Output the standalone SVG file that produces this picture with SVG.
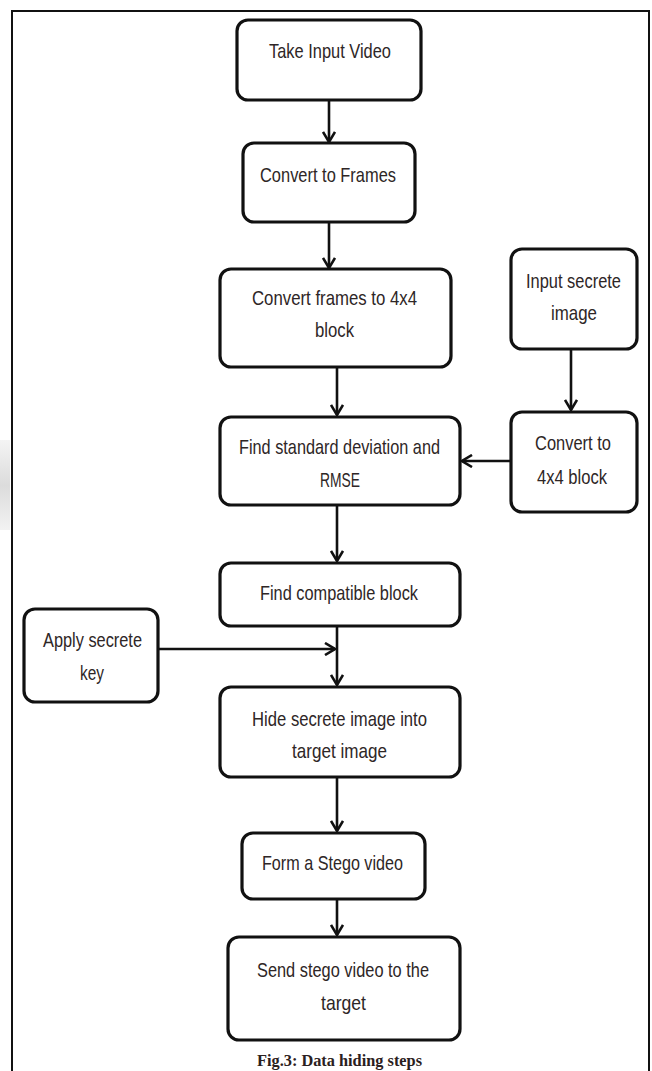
<svg xmlns="http://www.w3.org/2000/svg" width="652" height="1071" viewBox="0 0 652 1071">
<defs>
<style>
.box{fill:#fff;stroke:#111;stroke-width:3.2}
.t{font-family:"Liberation Sans",Arial,sans-serif;font-size:21px;fill:#2e2626;text-anchor:middle}
.cap{font-family:"Liberation Serif","Times New Roman",serif;font-size:17px;font-weight:bold;fill:#2a2020;text-anchor:middle}
.c{stroke:#111;stroke-width:2.6;fill:none;marker-end:url(#ah)}
</style>
<marker id="ah" markerUnits="userSpaceOnUse" viewBox="0 0 12 14" refX="11" refY="7" markerWidth="12" markerHeight="14" orient="auto">
<path d="M1,1 L11,7 L1,13" fill="none" stroke="#111" stroke-width="2.6"/>
</marker>
<linearGradient id="sm" x1="0" y1="0" x2="0" y2="1">
<stop offset="0" stop-color="#f4f4f4"/>
<stop offset="0.5" stop-color="#dcdcdc"/>
<stop offset="1" stop-color="#f2f2f2"/>
</linearGradient>
</defs>
<rect width="652" height="1071" fill="#fff"/>
<rect x="0" y="440" width="10" height="90" fill="url(#sm)"/>
<path d="M12,1071 V11 H649 V1071" fill="none" stroke="#111" stroke-width="2"/>

<g id="connectors">
<line class="c" x1="329" y1="100" x2="329" y2="142"/>
<line class="c" x1="329" y1="222" x2="329" y2="268"/>
<line class="c" x1="571" y1="349" x2="571" y2="410"/>
<line class="c" x1="337" y1="367" x2="337" y2="415"/>
<line class="c" x1="510" y1="461" x2="462" y2="461"/>
<line class="c" x1="337" y1="505" x2="337" y2="561"/>
<line class="c" x1="158" y1="649" x2="335" y2="649"/>
<line class="c" x1="337" y1="626" x2="337" y2="685"/>
<line class="c" x1="337" y1="777" x2="337" y2="831"/>
<line class="c" x1="337" y1="899" x2="337" y2="935"/>
</g>

<g id="n1"><rect class="box" x="237" y="20" width="184" height="80" rx="11"/>
<text class="t" x="330" y="58" textLength="122" lengthAdjust="spacingAndGlyphs">Take Input Video</text></g>

<g id="n2"><rect class="box" x="243" y="143" width="172" height="79" rx="11"/>
<text class="t" x="328" y="182" textLength="136" lengthAdjust="spacingAndGlyphs">Convert to Frames</text></g>

<g id="n3"><rect class="box" x="220" y="269" width="231" height="98" rx="11"/>
<text class="t" x="334.5" y="305" textLength="165" lengthAdjust="spacingAndGlyphs">Convert frames to 4x4</text>
<text class="t" x="334.5" y="337" textLength="39" lengthAdjust="spacingAndGlyphs">block</text></g>

<g id="n4"><rect class="box" x="511" y="249" width="126" height="100" rx="11"/>
<text class="t" x="573.5" y="288" textLength="95" lengthAdjust="spacingAndGlyphs">Input secrete</text>
<text class="t" x="574" y="320" textLength="46" lengthAdjust="spacingAndGlyphs">image</text></g>

<g id="n5"><rect class="box" x="511" y="412" width="126" height="100" rx="11"/>
<text class="t" x="573" y="450" textLength="76" lengthAdjust="spacingAndGlyphs">Convert to</text>
<text class="t" x="572" y="484" textLength="70" lengthAdjust="spacingAndGlyphs">4x4 block</text></g>

<g id="n6"><rect class="box" x="220" y="417" width="240" height="88" rx="11"/>
<text class="t" x="339.5" y="454" textLength="201" lengthAdjust="spacingAndGlyphs">Find standard deviation and</text>
<text class="t" x="340" y="487" textLength="40" lengthAdjust="spacingAndGlyphs">RMSE</text></g>

<g id="n7"><rect class="box" x="220" y="563" width="240" height="63" rx="11"/>
<text class="t" x="339" y="600" textLength="158" lengthAdjust="spacingAndGlyphs">Find compatible block</text></g>

<g id="n8"><rect class="box" x="24" y="609" width="134" height="93" rx="11"/>
<text class="t" x="92.5" y="647" textLength="99" lengthAdjust="spacingAndGlyphs">Apply secrete</text>
<text class="t" x="92" y="680" textLength="24" lengthAdjust="spacingAndGlyphs">key</text></g>

<g id="n9"><rect class="box" x="220" y="687" width="240" height="90" rx="11"/>
<text class="t" x="339.5" y="726" textLength="175" lengthAdjust="spacingAndGlyphs">Hide secrete image into</text>
<text class="t" x="339.5" y="758" textLength="95" lengthAdjust="spacingAndGlyphs">target image</text></g>

<g id="n10"><rect class="box" x="242" y="833" width="183" height="66" rx="11"/>
<text class="t" x="332.5" y="870" textLength="141" lengthAdjust="spacingAndGlyphs">Form a Stego video</text></g>

<g id="n11"><rect class="box" x="228" y="937" width="232" height="103" rx="11"/>
<text class="t" x="343" y="977" textLength="172" lengthAdjust="spacingAndGlyphs">Send stego video to the</text>
<text class="t" x="343.5" y="1010" textLength="45" lengthAdjust="spacingAndGlyphs">target</text></g>

<text class="cap" x="339.5" y="1066" textLength="165" lengthAdjust="spacingAndGlyphs">Fig.3: Data hiding steps</text>
</svg>
